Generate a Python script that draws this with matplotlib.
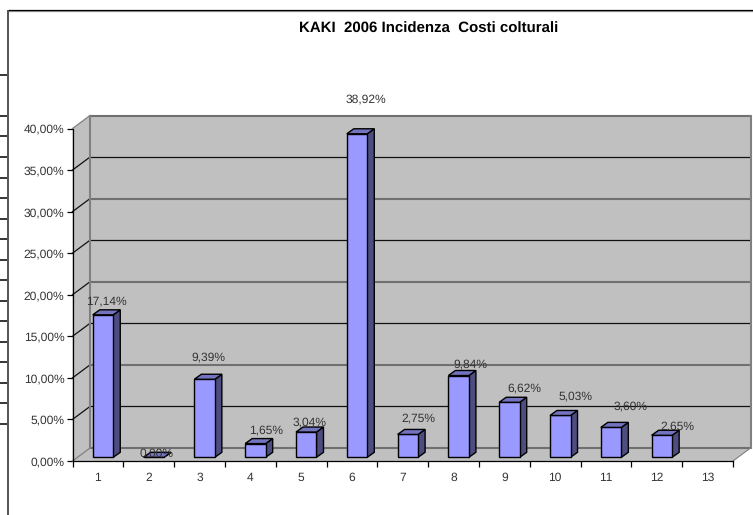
import matplotlib
matplotlib.use("Agg")
import matplotlib.pyplot as plt
from matplotlib.lines import Line2D
from matplotlib.patches import Polygon

plt.rcParams['font.family'] = ['Liberation Sans', 'DejaVu Sans']
plt.rcParams['text.hinting'] = 'none'
plt.rcParams['text.hinting_factor'] = 1

# ---- data ----
categories = list(range(1, 14))
values = [17.14, 0.00, 9.39, 1.65, 3.04, 38.92, 2.75, 9.84, 6.62, 5.03, 3.60, 2.65]
value_labels = ['17,14%', '0,00%', '9,39%', '1,65%', '3,04%', '38,92%', '2,75%',
                '9,84%', '6,62%', '5,03%', '3,60%', '2,65%']
y_ticks = [0, 5, 10, 15, 20, 25, 30, 35, 40]
y_tick_labels = ['0,00%', '5,00%', '10,00%', '15,00%', '20,00%', '25,00%',
                 '30,00%', '35,00%', '40,00%']
title = 'KAKI  2006 Incidenza  Costi colturali'

# ---- label offsets in pixels from the bar's front top centre ----
label_dx = [3, 3, 3.4, 10.6, 3, 9, 11, 12, 15, 15, 19.7, 16]
label_dy = [13.7, 4, 22, 13.6, 9.3, 34.5, 15.7, 10.7, 13.5, 19.4, 20.6, 9]

# ---- outer frame tick rows (pixels) ----
frame_ticks = [75, 116, 136, 157, 178, 198, 219, 239, 260, 280, 301, 321, 342, 362, 383, 403, 424]

W, H = 753, 515
L, R, T, B = 72.5, 733.0, 128.5, 461.0
DEPTH_X, DEPTH_Y = 17.5, 13.0
BAR_W, BAR_SHIFT, BAR_LIFT = 20.5, 5.1, 3.7
BAR_DX, BAR_DY = 7.0, 5.0
FACE, TOP, SIDE = '#9999FF', '#7373BF', '#4D4D80'
WALL = '#C0C0C0'
TXT = '#333333'
FS = 8.6

fig = plt.figure(figsize=(W / 100, H / 100), dpi=100, facecolor='white')
ax = fig.add_axes([L / W, (H - B) / H, (R - L) / W, (B - T) / H])
ax.set_xlim(0.5, 13.5)
ax.set_ylim(0, 40)
ax.patch.set_visible(False)
for s in ('top', 'right'):
    ax.spines[s].set_visible(False)
for s in ('left', 'bottom'):
    ax.spines[s].set_linewidth(0.9)

sx = (R - L) / 13.0   # px per category
sy = (B - T) / 40.0   # px per percent


def P(cat, val, dx=0.0, dy=0.0):
    """Data point shifted by a pixel offset (dy upward)."""
    return (cat + dx / sx, val + dy / sy)


x0, x1 = 0.5, 13.5
# walls and floor
ax.add_patch(Polygon([P(x0, 0, DEPTH_X, DEPTH_Y), P(x1, 0, DEPTH_X, DEPTH_Y),
                      P(x1, 40, DEPTH_X, DEPTH_Y), P(x0, 40, DEPTH_X, DEPTH_Y)],
                     fc=WALL, ec='none', clip_on=False, zorder=1))
ax.add_patch(Polygon([P(x0, 0), P(x0, 40), P(x0, 40, DEPTH_X, DEPTH_Y), P(x0, 0, DEPTH_X, DEPTH_Y)],
                     fc=WALL, ec='none', clip_on=False, zorder=1))
ax.add_patch(Polygon([P(x0, 0), P(x1, 0), P(x1, 0, DEPTH_X, DEPTH_Y), P(x0, 0, DEPTH_X, DEPTH_Y)],
                     fc=WALL, ec='none', clip_on=False, zorder=1))

# gridlines: back wall and left wall
for i, v in enumerate(y_ticks):
    a, b = P(x0, v, DEPTH_X, DEPTH_Y), P(x1, v, DEPTH_X, DEPTH_Y)
    heavy = i % 2 == 0
    ax.plot([a[0], b[0]], [a[1], b[1]], clip_on=False, zorder=2, solid_capstyle='butt',
            color='#707070' if heavy else '#111111', lw=1.5 if heavy else 0.9)
    c = P(x0, v)
    ax.plot([c[0], a[0]], [c[1], a[1]], clip_on=False, zorder=2,
            color='#808080' if v in (0, 40) else '#111111', lw=0.9)

# back wall vertical edges and right floor edge
for xx in (x0, x1):
    a, b = P(xx, 0, DEPTH_X, DEPTH_Y), P(xx, 40, DEPTH_X, DEPTH_Y)
    ax.plot([a[0], b[0]], [a[1], b[1]], color='#808080', lw=1.5, clip_on=False, zorder=2)
a = P(x1, 0, DEPTH_X, DEPTH_Y)
ax.plot([x1, a[0]], [0, a[1]], color='#808080', lw=0.8, clip_on=False, zorder=2)

# bars
bar_x = [c + BAR_SHIFT / sx for c in categories[:len(values)]]
base = BAR_LIFT / sy
ax.bar(bar_x, values, width=BAR_W / sx, bottom=base, color=FACE, edgecolor='black',
       linewidth=1.0, zorder=5, clip_on=False)
for x, v in zip(bar_x, values):
    xl = x - BAR_W / 2 / sx
    xr = x + BAR_W / 2 / sx
    top = v + base
    ax.add_patch(Polygon([(xr, base), (xr, top), P(xr, top, BAR_DX, BAR_DY), P(xr, base, BAR_DX, BAR_DY)],
                         fc=SIDE, ec='black', lw=1.0, clip_on=False, zorder=4, joinstyle='miter'))
    ax.add_patch(Polygon([(xl, top), (xr, top), P(xr, top, BAR_DX, BAR_DY), P(xl, top, BAR_DX, BAR_DY)],
                         fc=TOP, ec='black', lw=1.0, clip_on=False, zorder=6, joinstyle='miter'))

# value labels
for x, v, s, dx, dy in zip(bar_x, values, value_labels, label_dx, label_dy):
    ax.annotate(s, (x, v + base), xytext=(dx * 0.72, dy * 0.72), textcoords='offset points',
                ha='center', va='center', fontsize=FS, color=TXT, zorder=8, annotation_clip=False)

# axes ticks
ax.set_xticks([c for c in categories])
ax.set_xticklabels([str(c) for c in categories], fontsize=FS, color=TXT)
ax.set_xticks([c - 0.5 for c in categories] + [13.5], minor=True)
ax.tick_params(axis='x', which='major', length=0, pad=8)
ax.tick_params(axis='x', which='minor', length=4.3, width=0.9, direction='out')
ax.set_yticks(y_ticks)
ax.set_yticklabels(y_tick_labels, fontsize=FS, color=TXT)
ax.tick_params(axis='y', length=4.3, width=0.9, pad=1.6)

# title
fig.text(428.5 / W, 1 - 29 / H, title, ha='center', va='center', fontsize=10.9,
         fontweight='bold', color='black')

# outer frame, partly cropped chart object
def fl(xs, ys, **kw):
    fig.add_artist(Line2D([x / W for x in xs], [1 - y / H for y in ys],
                          solid_capstyle='butt', **kw))

fl([8, W], [10.7, 10.7], color='#999999', lw=0.9)
fl([8, W], [9.8, 9.8], color='black', lw=0.9)
fl([8, 8], [9.5, H], color='#444444', lw=1.3)
for y in frame_ticks:
    fl([0, 7.3], [y, y], color='black', lw=1.1)

fig.savefig('out.png', dpi=100, facecolor='white')
